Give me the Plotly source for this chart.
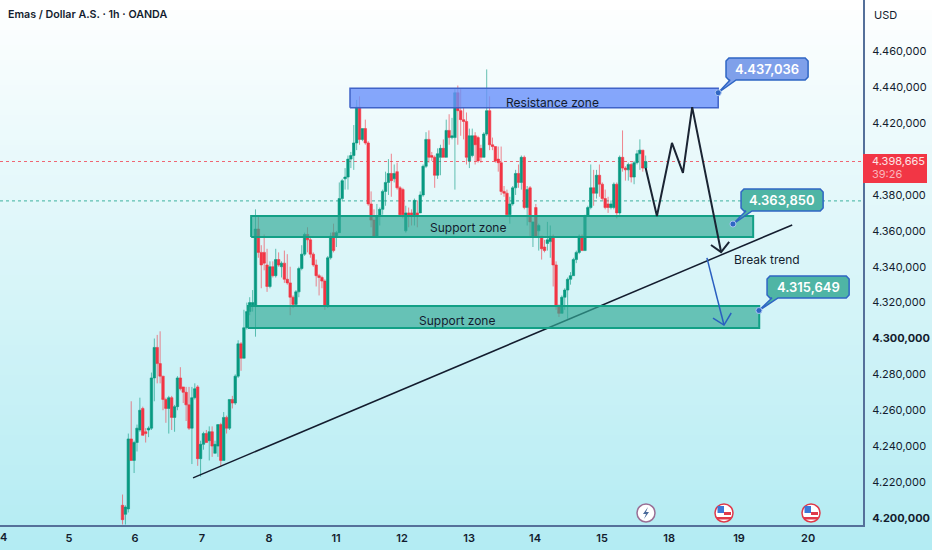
import plotly.graph_objects as go

W, H = 932, 550
PLOT_R, PLOT_B = 863, 524.5

GREEN = '#089981'
RED = '#f23645'
INK = '#131c2e'
ZONE_GREEN = 'rgba(50,170,150,0.68)'
ZONE_EDGE = '#12a086'
ZONE_BLUE = 'rgba(105,145,250,0.8)'
BLUE_EDGE = '#3f63c8'

# hourly candles, in thousands of USD (x = bar number)
opens = [4207, 4202, 4205, 4244, 4232, 4242, 4249, 4261, 4248, 4249,
         4250, 4278, 4295, 4286, 4279, 4266, 4261, 4267, 4256, 4262,
         4278, 4273, 4270, 4263, 4250, 4267, 4273, 4233, 4241, 4247,
         4243, 4248, 4236, 4240, 4252, 4232, 4256, 4250, 4266, 4264,
         4279, 4297, 4289, 4306, 4315, 4318, 4318, 4361, 4348, 4348,
         4341, 4329, 4340, 4335, 4344, 4340, 4342, 4333, 4331, 4323,
         4319, 4326, 4339, 4347, 4358, 4355, 4347, 4341, 4335, 4334,
         4332, 4318, 4345, 4359, 4357, 4359, 4378, 4389, 4390, 4400,
         4402, 4409, 4429, 4411, 4417, 4409, 4375, 4366, 4357, 4368,
         4372, 4382, 4387, 4392, 4389, 4393, 4384, 4383, 4360, 4370,
         4370, 4368, 4370, 4370, 4380, 4396, 4411, 4402, 4401, 4391,
         4401, 4406, 4401, 4416, 4412, 4412, 4437, 4427, 4422, 4421,
         4399, 4402, 4413, 4412, 4406, 4401, 4414, 4427, 4408, 4407,
         4400, 4398, 4382, 4381, 4369, 4375, 4384, 4392, 4387, 4401,
         4373, 4384, 4357, 4373, 4360, 4357, 4351, 4353, 4354, 4357,
         4341, 4318, 4314, 4323, 4327, 4333, 4335, 4344, 4348, 4357,
         4349, 4368, 4373, 4384, 4381, 4391, 4386, 4378, 4375, 4373,
         4373, 4386, 4370, 4401, 4395, 4394, 4397, 4390, 4398, 4403,
         4405, 4395]
highs = [4213, 4207, 4247, 4265, 4243, 4252, 4267, 4262, 4250, 4251,
         4281, 4300, 4302, 4304, 4279, 4267, 4268, 4268, 4263, 4279,
         4284, 4273, 4273, 4273, 4273, 4275, 4274, 4243, 4248, 4249,
         4251, 4251, 4243, 4252, 4253, 4259, 4257, 4266, 4268, 4280,
         4299, 4298, 4316, 4320, 4323, 4327, 4372, 4368, 4352, 4358,
         4350, 4343, 4343, 4350, 4348, 4343, 4349, 4347, 4340, 4324,
         4327, 4340, 4352, 4359, 4362, 4356, 4348, 4344, 4336, 4335,
         4333, 4346, 4359, 4364, 4360, 4387, 4389, 4395, 4402, 4404,
         4419, 4433, 4435, 4417, 4422, 4410, 4382, 4372, 4375, 4373,
         4383, 4393, 4400, 4403, 4397, 4398, 4385, 4384, 4374, 4373,
         4372, 4378, 4377, 4382, 4397, 4415, 4416, 4404, 4402, 4406,
         4408, 4411, 4422, 4425, 4423, 4439, 4441, 4439, 4429, 4426,
         4417, 4417, 4415, 4413, 4408, 4415, 4450, 4435, 4412, 4407,
         4407, 4407, 4385, 4383, 4379, 4385, 4394, 4397, 4402, 4402,
         4385, 4385, 4365, 4375, 4364, 4357, 4355, 4365, 4363, 4358,
         4343, 4319, 4324, 4328, 4334, 4337, 4345, 4349, 4358, 4358,
         4369, 4374, 4397, 4394, 4394, 4397, 4387, 4383, 4379, 4377,
         4387, 4387, 4402, 4416, 4396, 4398, 4398, 4399, 4405, 4411,
         4405, 4402]
lows = [4188, 4193, 4203, 4232, 4225, 4237, 4248, 4246, 4242, 4245,
        4249, 4265, 4275, 4275, 4260, 4253, 4247, 4249, 4248, 4260,
        4271, 4264, 4254, 4249, 4230, 4266, 4229, 4223, 4238, 4242,
        4232, 4234, 4236, 4234, 4229, 4232, 4247, 4249, 4261, 4263,
        4278, 4282, 4289, 4305, 4313, 4315, 4301, 4345, 4328, 4338,
        4326, 4328, 4334, 4334, 4340, 4334, 4331, 4330, 4313, 4317,
        4318, 4323, 4338, 4346, 4348, 4345, 4340, 4329, 4324, 4328,
        4316, 4317, 4344, 4348, 4351, 4359, 4377, 4383, 4383, 4395,
        4394, 4405, 4408, 4410, 4408, 4374, 4362, 4356, 4356, 4363,
        4369, 4374, 4380, 4379, 4387, 4383, 4368, 4367, 4359, 4362,
        4363, 4363, 4362, 4370, 4379, 4395, 4398, 4399, 4384, 4389,
        4391, 4401, 4401, 4408, 4411, 4383, 4408, 4413, 4411, 4397,
        4395, 4401, 4397, 4398, 4398, 4401, 4413, 4405, 4405, 4398,
        4393, 4380, 4379, 4369, 4364, 4374, 4380, 4384, 4383, 4372,
        4363, 4357, 4351, 4356, 4349, 4344, 4348, 4349, 4345, 4329,
        4316, 4312, 4314, 4316, 4311, 4330, 4335, 4342, 4347, 4349,
        4349, 4368, 4372, 4374, 4378, 4379, 4377, 4372, 4370, 4372,
        4372, 4367, 4369, 4393, 4388, 4388, 4387, 4386, 4397, 4394,
        4393, 4394]
closes = [4199, 4206, 4244, 4232, 4242, 4250, 4260, 4246, 4247, 4250,
          4278, 4295, 4286, 4279, 4266, 4261, 4267, 4256, 4262, 4278,
          4272, 4270, 4263, 4250, 4267, 4272, 4233, 4241, 4247, 4242,
          4248, 4240, 4241, 4252, 4232, 4256, 4250, 4266, 4264, 4279,
          4297, 4289, 4306, 4315, 4320, 4320, 4361, 4348, 4341, 4342,
          4329, 4340, 4335, 4344, 4341, 4342, 4333, 4331, 4323, 4319,
          4326, 4339, 4347, 4358, 4355, 4347, 4341, 4335, 4334, 4332,
          4318, 4345, 4357, 4349, 4359, 4378, 4388, 4390, 4400, 4402,
          4409, 4429, 4411, 4417, 4409, 4375, 4366, 4357, 4368, 4372,
          4382, 4387, 4392, 4388, 4392, 4384, 4369, 4369, 4370, 4368,
          4368, 4377, 4368, 4380, 4396, 4411, 4401, 4401, 4391, 4403,
          4406, 4401, 4416, 4412, 4413, 4437, 4427, 4422, 4421, 4401,
          4413, 4413, 4408, 4399, 4401, 4414, 4427, 4408, 4407, 4399,
          4398, 4382, 4381, 4369, 4375, 4384, 4392, 4387, 4401, 4373,
          4383, 4365, 4365, 4357, 4363, 4350, 4349, 4355, 4357, 4341,
          4318, 4314, 4323, 4327, 4333, 4335, 4344, 4348, 4357, 4349,
          4368, 4373, 4384, 4381, 4391, 4386, 4378, 4373, 4373, 4375,
          4386, 4370, 4401, 4395, 4394, 4397, 4390, 4398, 4403, 4405,
          4395, 4398.665]
bars = list(range(len(opens)))

day_ticks = [-18.5, 4.3, 27.5, 50.7, 73.9, 96.7, 119.9, 142.7, 165.9, 189.1, 213.3, 237.2]
day_labels = ['5', '6', '7', '8', '11', '12', '13', '14', '15', '18', '19', '20']
price_ticks = [4200, 4220, 4240, 4260, 4280, 4300, 4320, 4340, 4360, 4380, 4420, 4440, 4460]
price_labels = ['<b>4.200,000</b>', '4.220,000', '4.240,000', '4.260,000', '4.280,000', '<b>4.300,000</b>',
                '4.320,000', '4.340,000', '4.360,000', '4.380,000', '4.420,000', '4.440,000', '4.460,000']

last_price = 4398.665
prev_level = 4376.7

# drawings on the chart
trend_x = [24.4, 231.7]
trend_y = [4222.3, 4363.3]
resistance_zone = [78.7, 206.1, 4428.6, 4439.5]
support_upper = [44.5, 218.2, 4356.6, 4368.3]
support_lower = [43.4, 220.3, 4305.9, 4318.1]
path_x = [181.0, 184.9, 190.1, 193.9, 197.1, 207.1]
path_y = [4395, 4368.3, 4409, 4392.3, 4429, 4348.2]
path_head_x = [203.6, 207.1, 209.9]
path_head_y = [4352.1, 4348.2, 4353.8]
drop_x = [202.2, 208.1]
drop_y = [4344.9, 4307.5]
drop_head_x = [204.3, 208.1, 210.6]
drop_head_y = [4311.4, 4307.5, 4314.2]

callout_text = ['4.437,036', '4.363,850', '4.315,649']
callout_fill = ['#7fa0ea', '#4fb5a5', '#4fb5a5']
callout_box = [[208.8, 237.2, 4444.1, 4456.4],
               [214.0, 242.4, 4371.1, 4383.4],
               [223.0, 251.4, 4322.6, 4334.9]]
callout_tip = [[206.1, 4437.0], [211.2, 4363.8], [220.2, 4315.6]]
callout_base = [[210.2, 212.3], [215.7, 217.8], [224.7, 226.8]]

zone_text = ['Resistance zone', 'Support zone', 'Support zone', 'Break trend']
zone_text_x = [148.6, 119.6, 115.8, 223.0]
zone_text_y = [4431.8, 4361.6, 4310.3, 4344.3]


def px(x):
    return x / W


def py(y):
    return 1 - y / H


def rect_xy(z):
    return [z[0], z[1], z[1], z[0], z[0]], [z[2], z[2], z[3], z[3], z[2]]


def page_text(x, y, text, size, color, weight=400, xanchor='left'):
    fig.add_annotation(xref='paper', yref='paper', x=px(x), y=py(y), xanchor=xanchor, yanchor='middle',
                       showarrow=False, text=text,
                       font=dict(family='Inter', size=size, color=color, weight=weight))


fig = go.Figure()

fig.add_trace(go.Candlestick(
    x=bars, open=opens, high=highs, low=lows, close=closes,
    increasing=dict(line=dict(color='rgba(8,153,129,0.6)', width=1), fillcolor=GREEN),
    decreasing=dict(line=dict(color='rgba(242,54,69,0.6)', width=1), fillcolor=RED),
    whiskerwidth=0, hoverinfo='skip'))

fig.add_trace(go.Scatter(x=trend_x, y=trend_y, mode='lines', line=dict(color=INK, width=1.5), hoverinfo='skip'))

for z, fill, edge, lw in [(resistance_zone, ZONE_BLUE, BLUE_EDGE, 1.5),
                          (support_upper, ZONE_GREEN, ZONE_EDGE, 2),
                          (support_lower, ZONE_GREEN, ZONE_EDGE, 2)]:
    xs, ys = rect_xy(z)
    fig.add_trace(go.Scatter(x=xs, y=ys, mode='lines', fill='toself', fillcolor=fill,
                             line=dict(color=edge, width=lw), hoverinfo='skip'))

fig.add_trace(go.Scatter(x=path_x, y=path_y, mode='lines', line=dict(color='#1a2433', width=2), hoverinfo='skip'))
fig.add_trace(go.Scatter(x=path_head_x, y=path_head_y, mode='lines', line=dict(color='#1a2433', width=2), hoverinfo='skip'))
fig.add_trace(go.Scatter(x=drop_x, y=drop_y, mode='lines', line=dict(color='#2a5fc0', width=1.5), hoverinfo='skip'))
fig.add_trace(go.Scatter(x=drop_head_x, y=drop_head_y, mode='lines', line=dict(color='#2a5fc0', width=1.5), hoverinfo='skip'))

# callouts: chamfered box with a tail down to the anchor dot
for box, tip, base, fill, label in zip(callout_box, callout_tip, callout_base, callout_fill, callout_text):
    x0, x1, y0, y1 = box
    xs = [tip[0], base[0], x0 + 1, x0, x0, x0 + 1, x1 - 1, x1, x1, x1 - 1, base[1], tip[0]]
    ys = [tip[1], y0, y0, y0 + 1.7, y1 - 1.7, y1, y1, y1 - 1.7, y0 + 1.7, y0, y0, tip[1]]
    fig.add_trace(go.Scatter(x=xs, y=ys, mode='lines', fill='toself', fillcolor=fill,
                             line=dict(color='#2f66c4', width=1.5), hoverinfo='skip'))
    fig.add_trace(go.Scatter(x=[tip[0]], y=[tip[1]], mode='markers', hoverinfo='skip',
                             marker=dict(size=6, color='#2f66c4', line=dict(color='#a9c4f2', width=1))))
    fig.add_annotation(x=(x0 + x1) / 2, y=(y0 + y1) / 2, text=label, showarrow=False,
                       font=dict(family='Inter', size=13, color='white', weight=600))

for t, x, y in zip(zone_text, zone_text_x, zone_text_y):
    fig.add_annotation(x=x, y=y, text=t, showarrow=False, font=dict(family='Inter', size=12, color=INK))

fig.add_hline(y=last_price, line=dict(color='rgba(242,54,69,0.75)', width=1, dash='dot'), layer='below')
fig.add_hline(y=prev_level, line=dict(color='rgba(8,153,129,0.75)', width=1, dash='dot'), layer='below')

shapes = []
# white to cyan backdrop over the whole picture
steps = 110
for i in range(steps):
    t = (i + 0.5) / steps
    col = 'rgb(%d,%d,%d)' % (255 - 76 * t, 255 - 19 * t, 255 - 12 * t)
    shapes.append(dict(type='rect', xref='paper', yref='paper', x0=0, x1=1,
                       y0=1 - i / steps, y1=1 - (i + 1) / steps, layer='below',
                       fillcolor=col, line=dict(width=0)))

# last price tag on the axis
shapes.append(dict(type='rect', xref='paper', yref='paper', x0=px(PLOT_R), x1=px(927), y0=py(154), y1=py(183),
                   fillcolor=RED, line=dict(width=0)))

# event icons above the time axis
for cx in [646, 724, 811]:
    is_flag = cx != 646
    shapes.append(dict(type='circle', xref='paper', yref='paper',
                       x0=px(cx - 9), x1=px(cx + 9), y0=py(513 + 9), y1=py(513 - 9), fillcolor='white',
                       line=dict(color='#e0394a' if is_flag else '#9a6f95', width=1.5)))
    if is_flag:
        for x0, x1, y0, y1, col in [(-6.5, 0, -7, 0, '#3c78d8'), (0, 7, -1, 2, '#e0394a'), (-7, 7, 4, 6.5, '#e0394a')]:
            shapes.append(dict(type='rect', xref='paper', yref='paper',
                               x0=px(cx + x0), x1=px(cx + x1), y0=py(513 + y0), y1=py(513 + y1),
                               fillcolor=col, line=dict(width=0)))
    else:
        pts = [(2, -6), (-3, 1), (0, 1), (-2, 6), (3, -1), (0, -1)]
        path = 'M ' + ' L '.join('%.5f %.5f' % (px(cx + a), py(513 + b)) for a, b in pts) + ' Z'
        shapes.append(dict(type='path', xref='paper', yref='paper', path=path, fillcolor='#4a6a9a', line=dict(width=0)))

# backdrop first so the dotted price lines sit on top of it
fig.update_layout(shapes=shapes + list(fig.layout.shapes))

page_text(6, 15, 'Emas / Dollar A.S. · 1h · OANDA', 10.7, INK, weight=600)
page_text(872, 15, 'USD', 11, INK)
page_text(870, 161, '4.398,665', 11, '#fde4e6')
page_text(870, 174, '39:26', 11, '#f9b4ba')
page_text(3, 537, '4', 11, INK, weight=600, xanchor='center')

fig.update_layout(
    width=W, height=H,
    margin=dict(l=0, r=0, t=0, b=0),
    boxgap=0.1, boxgroupgap=0.05,
    paper_bgcolor='rgba(0,0,0,0)',
    plot_bgcolor='rgba(0,0,0,0)',
    showlegend=False,
    xaxis=dict(domain=[0, PLOT_R / W], range=[-42.4, 256.2], rangeslider=dict(visible=False),
               tickvals=day_ticks, ticktext=day_labels, ticks='', showgrid=False, zeroline=False,
               showline=True, linecolor='#55709a', linewidth=2, ticklabelstandoff=2,
               tickfont=dict(family='Inter', size=11, color=INK, weight=600)),
    yaxis=dict(domain=[1 - PLOT_B / H, 1], range=[4196.3, 4488.7], side='right',
               tickvals=price_ticks, ticktext=price_labels, ticks='', showgrid=False, zeroline=False,
               showline=True, linecolor='#55709a', linewidth=2, ticklabelstandoff=5,
               tickfont=dict(family='Inter', size=11, color=INK)),
)

fig.write_html("out.html", config=dict(displayModeBar=False),
               post_script="document.body.style.margin='0';document.documentElement.style.overflow='hidden';")
